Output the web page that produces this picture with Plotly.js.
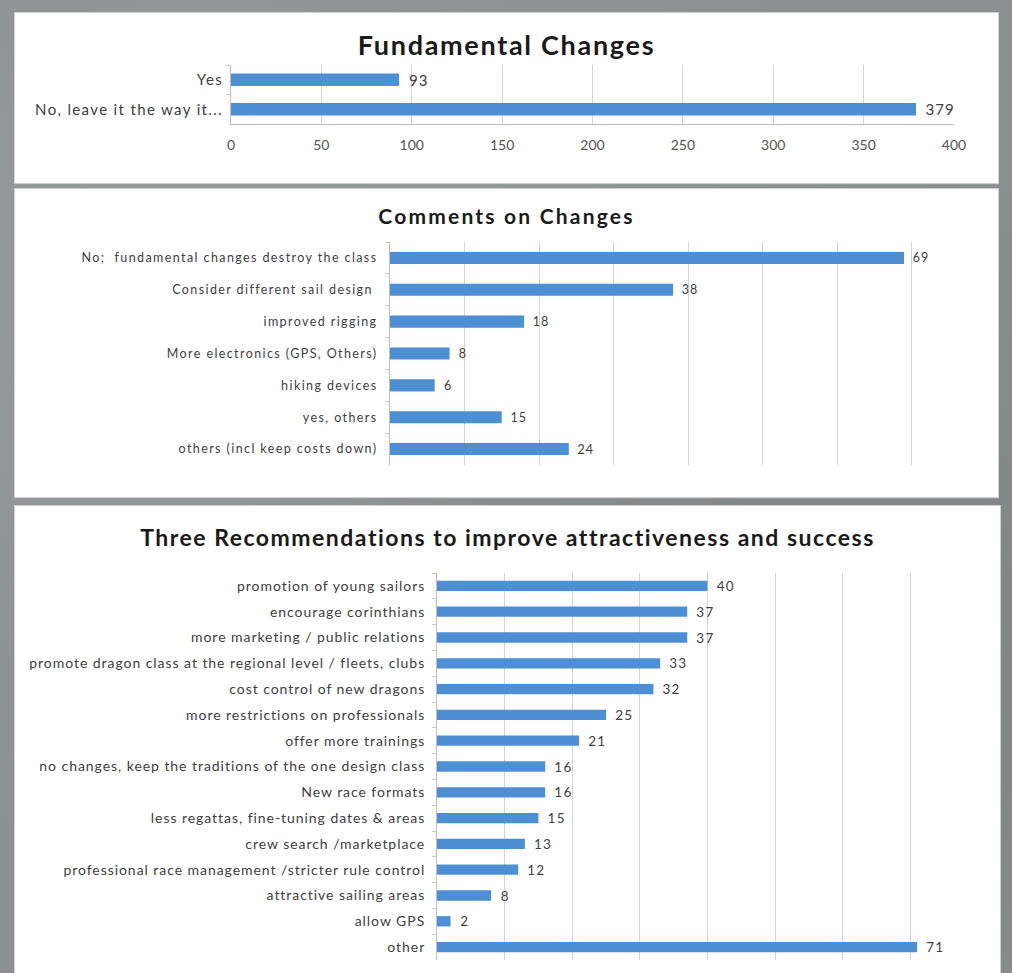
<!DOCTYPE html>
<html>
<head>
<meta charset="utf-8">
<script src="https://cdn.plot.ly/plotly-3.0.1.min.js"></script>
<style>
  html, body { margin: 0; padding: 0; }
  body {
    width: 1012px; height: 973px; overflow: hidden; position: relative;
    background: #8b9090;
    background-image:
      radial-gradient(ellipse at 20% 30%, rgba(255,255,255,0.10), rgba(0,0,0,0) 60%),
      radial-gradient(ellipse at 80% 70%, rgba(0,0,0,0.10), rgba(0,0,0,0) 60%);
  }
  .panel { position: absolute; background: #ffffff; box-shadow: 0 1px 0 #9a9a9a; border: 1px solid #d0d0d0; box-sizing: border-box; }
  #p1 .ytick text { letter-spacing: 1.35px; }
  #p1 .gtitle { letter-spacing: 1.7px; }
  #p1 .bartext { letter-spacing: 1px; }
  #p2 .ytick text { letter-spacing: 1.4px; }
  #p2 .gtitle { letter-spacing: 2.2px; }
  #p2 .bartext { letter-spacing: 1px; }
  #p3 .ytick text { letter-spacing: 0.95px; }
  #p3 .gtitle { letter-spacing: 1.5px; }
  #p3 .bartext { letter-spacing: 1.2px; }
</style>
</head>
<body>
<div id="p1" class="panel" style="left:14px; top:12px; width:985px; height:172px;"></div>
<div id="p2" class="panel" style="left:14px; top:188px; width:985px; height:310px;"></div>
<div id="p3" class="panel" style="left:14px; top:505px; width:987px; height:470px;"></div>
<script>
// ---- Data ----
const fundCategories = ["Yes", "No, leave it the way it..."];
const fundValues = [93, 379];

const commentCategories = [
  "No;  fundamental changes destroy the class",
  "Consider different sail design ",
  "improved rigging",
  "More electronics (GPS, Others)",
  "hiking devices",
  "yes, others",
  "others (incl keep costs down)"
];
const commentValues = [69, 38, 18, 8, 6, 15, 24];

const recCategories = [
  "promotion of young sailors",
  "encourage corinthians",
  "more marketing / public relations",
  "promote dragon class at the regional level / fleets, clubs",
  "cost control of new dragons",
  "more restrictions on professionals",
  "offer more trainings",
  "no changes, keep the traditions of the one design class",
  "New race formats",
  "less regattas, fine-tuning dates & areas",
  "crew search /marketplace",
  "professional race management /stricter rule control",
  "attractive sailing areas",
  "allow GPS",
  "other"
];
const recValues = [40, 37, 37, 33, 32, 25, 21, 16, 16, 15, 13, 12, 8, 2, 71];

const fundTicks = [0, 50, 100, 150, 200, 250, 300, 350, 400];

// ---- Styling ----
const FONT = "Lato, 'Open Sans', sans-serif";
const BAR = "#4e8fd3";
const GRID = "#d2d2d2";
const TXT = "#404040";

function barTrace(cats, vals, fs) {
  return {
    type: "bar", orientation: "h", y: cats, x: vals,
    marker: { color: BAR },
    text: vals.map(v => "\u2002" + v), textposition: "outside", cliponaxis: false,
    constraintext: "none",
    textfont: { family: FONT, size: fs, color: TXT },
    hoverinfo: "skip"
  };
}

const cfg = { displayModeBar: false, staticPlot: true };

function yAxis(fs, standoff) {
  return { autorange: "reversed", showline: true, linecolor: "#bfbfbf", ticks: "outside", ticklen: 4,
           tickson: "boundaries", tickcolor: "#e0c2a8", showgrid: false, ticklabelstandoff: standoff,
           tickfont: { family: FONT, size: fs, color: TXT } };
}

// Panel 1
Plotly.newPlot("p1", [barTrace(fundCategories, fundValues, 15)], {
  width: 983, height: 170,
  margin: { l: 216, r: 44, t: 52, b: 59 },
  paper_bgcolor: "rgba(0,0,0,0)", plot_bgcolor: "rgba(0,0,0,0)",
  bargap: 0.58,
  showlegend: false,
  font: { family: FONT, color: TXT },
  title: { text: "<b>Fundamental Changes</b>", x: 0.5, xanchor: "center", y: 0.81, yanchor: "middle", yref: "container",
           font: { family: FONT, size: 27, color: "#1a1a1a" } },
  xaxis: { range: [0, 400], tickvals: fundTicks, showgrid: true, gridcolor: GRID, gridwidth: 1,
           zeroline: false, showline: true, linecolor: "#bfbfbf", ticks: "", ticklabelstandoff: 8,
           tickfont: { family: FONT, size: 14, color: "#555555" }, fixedrange: true },
  yaxis: yAxis(15, 4)
}, cfg);

// Panel 2
Plotly.newPlot("p2", [barTrace(commentCategories, commentValues, 12.5)], {
  width: 983, height: 308,
  margin: { l: 375, r: 12, t: 53, b: 32 },
  paper_bgcolor: "rgba(0,0,0,0)", plot_bgcolor: "rgba(0,0,0,0)",
  bargap: 0.62,
  showlegend: false,
  font: { family: FONT, color: TXT },
  title: { text: "<b>Comments on Changes</b>", x: 0.5, xanchor: "center", y: 0.91, yanchor: "middle", yref: "container",
           font: { family: FONT, size: 21, color: "#1a1a1a" } },
  xaxis: { range: [0, 80], dtick: 10, showgrid: true, gridcolor: GRID, gridwidth: 1,
           zeroline: false, showline: false, showticklabels: false, ticks: "", fixedrange: true },
  yaxis: yAxis(12.5, 9)
}, cfg);

// Panel 3
Plotly.newPlot("p3", [barTrace(recCategories, recValues, 13.5)], {
  width: 985, height: 468,
  margin: { l: 422, r: 22, t: 67, b: 14 },
  paper_bgcolor: "rgba(0,0,0,0)", plot_bgcolor: "rgba(0,0,0,0)",
  bargap: 0.6,
  showlegend: false,
  font: { family: FONT, color: TXT },
  title: { text: "<b>Three Recommendations to improve attractiveness and success</b>", x: 0.5, xanchor: "center", y: 0.932, yanchor: "middle", yref: "container",
           font: { family: FONT, size: 23, color: "#1a1a1a" } },
  xaxis: { range: [0, 80], dtick: 10, showgrid: true, gridcolor: GRID, gridwidth: 1,
           zeroline: false, showline: false, showticklabels: false, ticks: "", fixedrange: true },
  yaxis: yAxis(14, 8)
}, cfg);
</script>
</body>
</html>
